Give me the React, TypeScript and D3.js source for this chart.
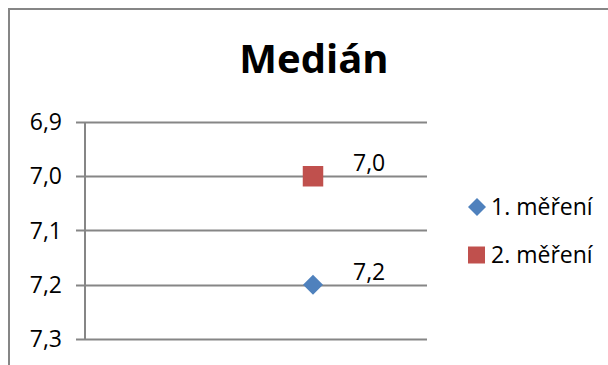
import * as d3 from "d3";
import { useEffect, useRef } from "react";

// chart data
const title = "Medián";
const seriesNames = ["1. měření", "2. měření"];
const seriesValues = [7.2, 7.0];
const seriesColors = ["#4F81BD", "#C0504D"];
const yTicks = [6.9, 7.0, 7.1, 7.2, 7.3];

const fmt = (v: number) => v.toFixed(1).replace(".", ",");

const App = () => {
  const svgRef = useRef<SVGSVGElement>(null);

  useEffect(() => {
    const svg = d3.select(svgRef.current);
    svg.selectAll("*").remove();

    const font = "'Open Sans', sans-serif";

    // outer frame (runs off the right and bottom edge)
    svg
      .append("rect")
      .attr("x", 9)
      .attr("y", 9)
      .attr("width", 700)
      .attr("height", 500)
      .attr("fill", "#fff")
      .attr("stroke", "#868686")
      .attr("stroke-width", 2);

    svg
      .append("text")
      .attr("x", 314)
      .attr("y", 73)
      .attr("text-anchor", "middle")
      .attr("font-family", font)
      .attr("font-weight", "bold")
      .attr("font-size", 40)
      .text(title);

    const left = 85,
      right = 427,
      top = 122,
      bottom = 339;

    // reversed value axis
    const y = d3.scaleLinear().domain([6.9, 7.3]).range([top, bottom]);
    const x = d3.scaleLinear().domain([0, 1.5]).range([left, right]);

    const g = svg.append("g");

    // gridlines + tick marks
    g.selectAll("line.grid")
      .data(yTicks)
      .enter()
      .append("line")
      .attr("x1", left - 9)
      .attr("x2", right)
      .attr("y1", (d) => Math.round(y(d)) + 0.5)
      .attr("y2", (d) => Math.round(y(d)) + 0.5)
      .attr("stroke", "#868686")
      .attr("stroke-width", 2);

    // axis line
    g.append("line")
      .attr("x1", left)
      .attr("x2", left)
      .attr("y1", top)
      .attr("y2", bottom)
      .attr("stroke", "#868686")
      .attr("stroke-width", 2);

    g.selectAll("text.tick")
      .data(yTicks)
      .enter()
      .append("text")
      .attr("x", 62)
      .attr("y", (d) => y(d) + 8)
      .attr("text-anchor", "end")
      .attr("font-family", font)
      .attr("font-size", 23)
      .text((d) => fmt(d));

    // markers: diamond = rotated square
    const rot = [45, 0];
    const sizes = [200, 420];
    seriesValues.forEach((v, i) => {
      g.append("path")
        .attr("d", d3.symbol(d3.symbolSquare, sizes[i])())
        .attr("transform", `translate(${x(1)},${y(v)}) rotate(${rot[i]})`)
        .attr("fill", seriesColors[i]);
      g.append("text")
        .attr("x", x(1) + 40)
        .attr("y", y(v) - 5)
        .attr("font-family", font)
        .attr("font-size", 23)
        .text(fmt(v));
    });

    // legend
    const legend = svg.append("g");
    const legendSizes = [162, 289];
    seriesNames.forEach((name, i) => {
      const ly = 207 + i * 48;
      legend
        .append("path")
        .attr("d", d3.symbol(d3.symbolSquare, legendSizes[i])())
        .attr("transform", `translate(${i === 0 ? 477 : 476.5},${ly}) rotate(${rot[i]})`)
        .attr("fill", seriesColors[i]);
      legend
        .append("text")
        .attr("x", 491)
        .attr("y", ly + 8)
        .attr("font-family", font)
        .attr("font-size", 23)
        .text(name);
    });
  }, []);

  return (
    <svg
      ref={svgRef}
      width={608}
      height={365}
      style={{ position: "absolute", left: 0, top: 0, background: "#fff" }}
    />
  );
};

export default App;
